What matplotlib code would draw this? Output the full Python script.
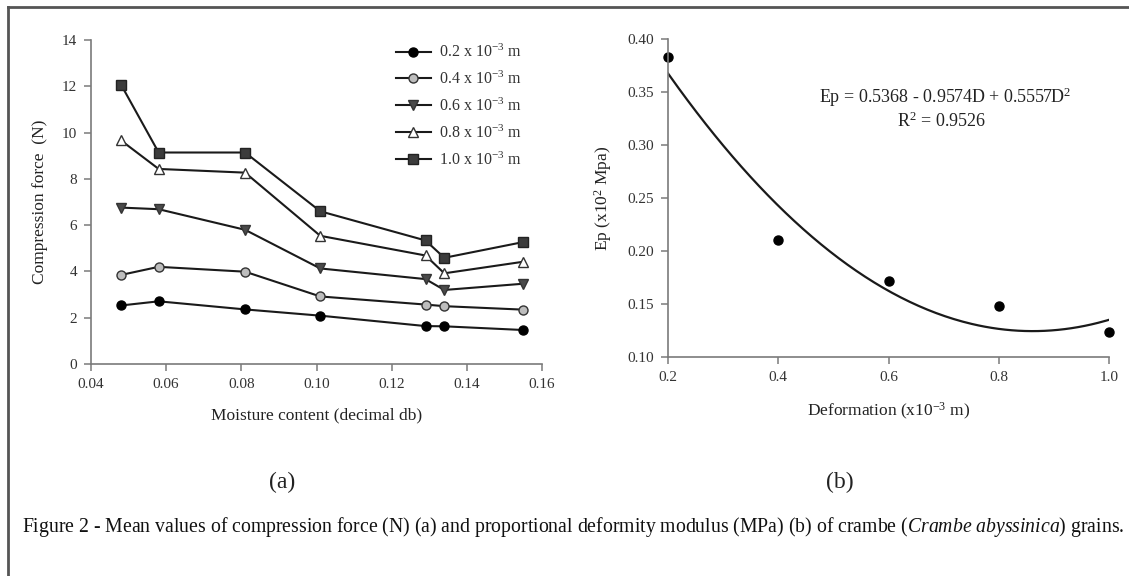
import numpy as np
import matplotlib
matplotlib.use("Agg")
import matplotlib.pyplot as plt
from matplotlib.lines import Line2D

plt.rcParams['font.family'] = ['Liberation Serif', 'DejaVu Serif']
plt.rcParams['mathtext.fontset'] = 'custom'
plt.rcParams['mathtext.rm'] = 'Liberation Serif'
plt.rcParams['mathtext.it'] = 'Liberation Serif:italic'

# (a) compression force vs moisture content
moisture = [0.048, 0.058, 0.081, 0.101, 0.129, 0.134, 0.155]
f_02 = [2.53, 2.71, 2.36, 2.09, 1.64, 1.63, 1.47]
f_04 = [3.85, 4.20, 3.99, 2.92, 2.57, 2.50, 2.35]
f_06 = [6.76, 6.69, 5.80, 4.13, 3.67, 3.20, 3.47]
f_08 = [9.66, 8.43, 8.27, 5.54, 4.69, 3.92, 4.42]
f_10 = [12.07, 9.14, 9.14, 6.60, 5.34, 4.59, 5.27]
series_labels = ['0.2 x 10$^{-3}$ m', '0.4 x 10$^{-3}$ m', '0.6 x 10$^{-3}$ m',
                 '0.8 x 10$^{-3}$ m', '1.0 x 10$^{-3}$ m']

# (b) Ep vs deformation
deform = [0.2, 0.4, 0.6, 0.8, 1.0]
ep = [0.383, 0.210, 0.172, 0.148, 0.124]
fit_coef = [0.5368, -0.9574, 0.5557]   # Ep = a + bD + cD^2

fig = plt.figure(figsize=(11.29, 5.76), dpi=100)

spine_c = '#7a7a7a'
line_c = '#1a1a1a'

def style(ax):
    for s in ['top', 'right']:
        ax.spines[s].set_visible(False)
    for s in ['left', 'bottom']:
        ax.spines[s].set_color(spine_c)
        ax.spines[s].set_linewidth(1.2)
    ax.tick_params(direction='out', length=5, width=1.1, color=spine_c,
                   labelsize=11, labelcolor='#333333', pad=5)

# ---- panel (a)
ax1 = fig.add_axes([0.0806, 0.368, 0.3995, 0.5625])
style(ax1)
styles = [
    dict(marker='o', mfc='black', mec='black'),
    dict(marker='o', mfc='#bdbdbd', mec='#333333'),
    dict(marker='v', mfc='#4a4a4a', mec='#333333'),
    dict(marker='^', mfc='white', mec='#333333'),
    dict(marker='s', mfc='#3c3c3c', mec='#222222'),
]
for vals, lab, st in zip([f_02, f_04, f_06, f_08, f_10], series_labels, styles):
    ax1.plot(moisture, vals, color=line_c, lw=1.5, ms=6.5, mew=1.0, label=lab, **st)
ax1.set_xlim(0.04, 0.16)
ax1.set_ylim(0, 14)
ax1.set_xticks([0.04, 0.06, 0.08, 0.10, 0.12, 0.14, 0.16])
ax1.set_xticklabels(['0.04', '0.06', '0.08', '0.10', '0.12', '0.14', '0.16'])
ax1.set_yticks(range(0, 15, 2))
ax1.set_xlabel('Moisture content (decimal db)', fontsize=12.5, color='#222222', labelpad=12)
ax1.set_ylabel('Compression force  (N)', fontsize=12.5, color='#222222', labelpad=10)
leg = ax1.legend(loc='upper left', bbox_to_anchor=(0.345, 0.935), bbox_transform=fig.transFigure,
                 frameon=False, fontsize=11.5, handlelength=2.2, labelspacing=0.6,
                 handletextpad=0.5, borderaxespad=0)
for t in leg.get_texts():
    t.set_color('#333333')

# ---- panel (b)
ax2 = fig.add_axes([0.5917, 0.3802, 0.3906, 0.552])
style(ax2)
dd = np.linspace(0.2, 1.0, 200)
ax2.plot(dd, np.polyval(fit_coef[::-1], dd), color=line_c, lw=1.6)
ax2.plot(deform, ep, 'o', color='black', ms=6.5, clip_on=False)
ax2.set_xlim(0.2, 1.0)
ax2.set_ylim(0.10, 0.40)
ax2.set_xticks(deform)
ax2.set_xticklabels(['0.2', '0.4', '0.6', '0.8', '1.0'])
ax2.set_yticks([0.10, 0.15, 0.20, 0.25, 0.30, 0.35, 0.40])
ax2.set_yticklabels(['0.10', '0.15', '0.20', '0.25', '0.30', '0.35', '0.40'])
ax2.set_xlabel('Deformation (x10$^{-3}$ m)', fontsize=12.5, color='#222222', labelpad=12)
ax2.set_ylabel('Ep (x10$^{2}$ Mpa)', fontsize=12.5, color='#222222', labelpad=10)
fig.text(945 / 1129, 1 - 97 / 576, 'Ep = 0.5368 - 0.9574D + 0.5557D$^{2}$',
         ha='center', va='center', fontsize=13, color='#222222')
fig.text(942 / 1129, 1 - 121 / 576, 'R$^{2}$ = 0.9526',
         ha='center', va='center', fontsize=13, color='#222222')

# panel letters and caption
fig.text(282 / 1129, 1 - 482 / 576, '(a)', ha='center', va='center', fontsize=17, color='#222222')
fig.text(840 / 1129, 1 - 482 / 576, '(b)', ha='center', va='center', fontsize=17, color='#222222')
fig.text(22 / 1129, 1 - 527 / 576,
         'Figure 2 - Mean values of compression force (N) (a) and proportional deformity modulus (MPa) '
         '(b) of crambe ($\\it{Crambe\\ abyssinica}$) grains.',
         ha='left', va='center', fontsize=14.2, color='#111111')

# outer frame (top and left edges)
fig.add_artist(Line2D([8 / 1129, 1.0], [1 - 7 / 576, 1 - 7 / 576], transform=fig.transFigure,
                      color='#555555', lw=2))
fig.add_artist(Line2D([8 / 1129, 8 / 1129], [0, 1 - 7 / 576], transform=fig.transFigure,
                      color='#555555', lw=2))

fig.savefig('out.png', dpi=100)
